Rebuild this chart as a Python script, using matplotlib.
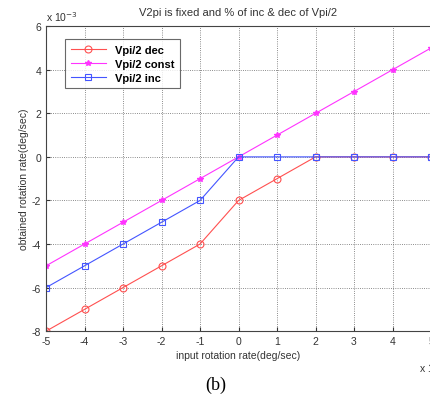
import matplotlib.pyplot as plt
from matplotlib.ticker import FuncFormatter
import numpy as np

plt.rcParams['font.family'] = ['Liberation Sans', 'DejaVu Sans']

scale = 1e-3
rate_in = [-5, -4, -3, -2, -1, 0, 1, 2, 3, 4, 5]
vpi_dec = [-8, -7, -6, -5, -4, -2, -1, 0, 0, 0, 0]
vpi_const = [-5, -4, -3, -2, -1, 0, 1, 2, 3, 4, 5]
vpi_inc = [-6, -5, -4, -3, -2, 0, 0, 0, 0, 0, 0]

x = np.array(rate_in) * scale

fig = plt.figure(figsize=(4.31, 4.06), dpi=100)
ax = fig.add_axes([0.107, 0.182, 0.893, 0.751])

ax.plot(x, np.array(vpi_dec) * scale, color='#ff5050', lw=0.8, marker='o',
        ms=5, mfc='none', mec='#ff5050', mew=0.8, label='Vpi/2 dec')
ax.plot(x, np.array(vpi_const) * scale, color='#ff33ff', lw=0.8, marker='*',
        ms=4, label='Vpi/2 const')
ax.plot(x, np.array(vpi_inc) * scale, color='#4455ff', lw=0.8, marker='s',
        ms=5, mfc='none', mec='#4455ff', mew=0.8, label='Vpi/2 inc')

ax.set_xlim(-5 * scale, 5 * scale)
ax.set_ylim(-8 * scale, 6 * scale)
ax.set_xticks(np.arange(-5, 6) * scale)
ax.set_yticks(np.arange(-8, 7, 2) * scale)
fmt = FuncFormatter(lambda v, p: '%g' % round(v / scale))
ax.xaxis.set_major_formatter(fmt)
ax.yaxis.set_major_formatter(fmt)
ax.tick_params(direction='in', labelsize=7.5, length=3, colors='#333333')
ax.grid(True, linestyle=':', color='#666666', linewidth=0.6)
for s in ax.spines.values():
    s.set_color('#444444')
    s.set_linewidth(0.8)

ax.set_title('V2pi is fixed and % of inc & dec of Vpi/2', fontsize=8, color='#333333', pad=8)
ax.set_xlabel('input rotation rate(deg/sec)', fontsize=7.5, color='#333333', labelpad=3)
ax.set_ylabel('obtained rotation rate(deg/sec)', fontsize=7.5, color='#333333', labelpad=2)

ax.text(0.0, 1.012, 'x 10$^{-3}$', transform=ax.transAxes, fontsize=7.5, color='#333333',
        ha='left', va='bottom')
ax.text(0.97, -0.14, 'x 10$^{-3}$', transform=ax.transAxes, fontsize=7.5, color='#333333',
        ha='left', va='bottom')

leg = ax.legend(loc='upper left', bbox_to_anchor=(0.035, 0.975),
                prop={'weight': 'bold', 'size': 8}, fancybox=False, edgecolor='#444444',
                handlelength=3.2, borderpad=0.5, labelspacing=0.35)
leg.get_frame().set_linewidth(0.8)

fig.text(0.5, 0.03, '(b)', fontsize=13, family='Liberation Serif', ha='center', va='bottom')

fig.savefig('out.png', dpi=100)
